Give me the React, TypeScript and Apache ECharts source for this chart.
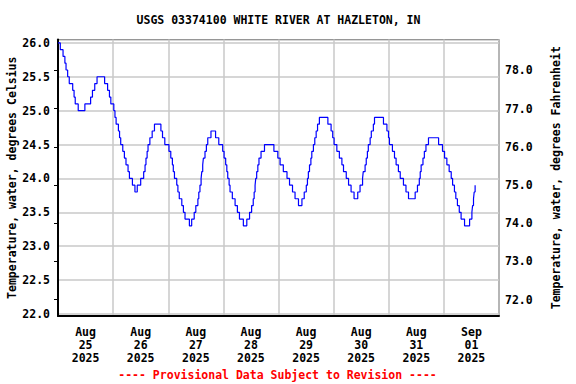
import React, { useEffect, useRef } from "react";
import * as echarts from "echarts";

// Hours after 2025-08-25 00:00 at which the reading changes, and the reading (deg C) from then on
const changeHours = [
  0, 1.0, 2.2, 3.0, 3.5, 4.2, 4.9, 6.4, 7.0, 7.5, 8.8, 11.7, 14.2, 15.0, 16.0, 17.0, 20.3, 21.6, 22.4, 23.0,
  24.3, 24.8, 25.3, 26.3, 26.8, 27.3, 28.2, 28.9, 29.6, 30.5, 31.1, 32.4, 33.5, 34.5, 36.0, 37.3, 37.9, 38.3,
  38.8, 39.2, 40.0, 41.0, 42.0, 44.8, 45.5, 46.5, 48.3, 49.1, 49.8, 50.2, 50.7, 51.7, 52.2, 52.8, 53.9, 54.6,
  55.3, 57.2, 58.2, 59.3, 60.0, 60.9, 61.3, 61.8, 62.3, 62.6, 63.0, 63.3, 64.0, 64.6, 65.2, 66.6, 68.6, 70.0,
  71.7, 72.3, 73.0, 73.5, 73.9, 74.5, 74.9, 75.9, 77.1, 78.1, 79.0, 80.7, 82.2, 83.4, 84.3, 85.0, 85.4, 85.8,
  86.1, 86.5, 87.0, 87.5, 88.4, 89.9, 94.0, 95.7, 96.7, 98.1, 99.7, 100.8, 102.1, 103.2, 104.7, 106.2, 107.2,
  108.1, 108.6, 109.0, 109.5, 110.1, 110.5, 111.2, 111.8, 112.4, 113.0, 113.8, 117.5, 118.9, 119.6, 120.2,
  121.4, 122.5, 123.6, 124.3, 125.5, 126.5, 127.6, 128.9, 130.5, 131.5, 132.6, 132.9, 133.7, 134.2, 134.7,
  135.1, 135.9, 136.4, 137.3, 137.8, 141.7, 143.2, 143.9, 144.3, 145.6, 146.5, 147.2, 148.2, 149.0, 150.4,
  151.5, 152.6, 155.5, 156.5, 157.3, 157.7, 158.1, 158.9, 159.5, 160.2, 161.3, 165.7, 167.4, 168.3, 169.3,
  170.3, 171.2, 171.8, 172.6, 173.2, 173.9, 174.7, 175.5, 177.0, 179.2, 180.2, 180.5, 180.9, 181.2, 181.6, 181.8,
];
const tempC = [
  26.0, 25.9, 25.8, 25.7, 25.6, 25.5, 25.4, 25.3, 25.2, 25.1, 25.0, 25.1, 25.2, 25.3, 25.4, 25.5, 25.4, 25.3, 25.2, 25.1,
  25.0, 24.9, 24.8, 24.7, 24.6, 24.5, 24.4, 24.3, 24.2, 24.1, 24.0, 23.9, 23.8, 23.9, 24.0, 24.1, 24.2, 24.3,
  24.4, 24.5, 24.6, 24.7, 24.8, 24.7, 24.6, 24.5, 24.4, 24.3, 24.2, 24.1, 24.0, 23.9, 23.8, 23.7, 23.6, 23.5,
  23.4, 23.3, 23.4, 23.5, 23.6, 23.7, 23.8, 23.9, 24.0, 24.1, 24.2, 24.3, 24.4, 24.5, 24.6, 24.7, 24.6, 24.5,
  24.4, 24.3, 24.2, 24.1, 24.0, 23.9, 23.8, 23.7, 23.6, 23.5, 23.4, 23.3, 23.4, 23.5, 23.6, 23.7, 23.8, 23.9,
  24.0, 24.1, 24.2, 24.3, 24.4, 24.5, 24.4, 24.3, 24.2, 24.1, 24.0, 23.9, 23.8, 23.7, 23.6, 23.7, 23.8,
  23.9, 24.0, 24.1, 24.2, 24.3, 24.4, 24.5, 24.6, 24.7, 24.8, 24.9, 24.8, 24.7, 24.6, 24.5,
  24.4, 24.3, 24.2, 24.1, 24.0, 23.9, 23.8, 23.7, 23.8, 23.9, 24.0, 24.1, 24.2, 24.3, 24.4,
  24.5, 24.6, 24.7, 24.8, 24.9, 24.8, 24.7, 24.6, 24.5, 24.4, 24.3, 24.2, 24.1, 24.0, 23.9,
  23.8, 23.7, 23.8, 23.9, 24.0, 24.1, 24.2, 24.3, 24.4, 24.5, 24.6, 24.5, 24.4, 24.3, 24.2,
  24.1, 24.0, 23.9, 23.8, 23.7, 23.6, 23.5, 23.4, 23.3, 23.4, 23.5, 23.6, 23.7, 23.8, 23.9, 23.9,
];

const dayLabels = [
  "Aug\n25\n2025", "Aug\n26\n2025", "Aug\n27\n2025", "Aug\n28\n2025",
  "Aug\n29\n2025", "Aug\n30\n2025", "Aug\n31\n2025", "Sep\n01\n2025",
];

const titleText = "USGS 03374100 WHITE RIVER AT HAZLETON, IN";
const footerText = "---- Provisional Data Subject to Revision ----";
const leftName = "Temperature, water, degrees Celsius";
const rightName = "Temperature, water, degrees Fahrenheit";

const FONT = "DejaVu Sans Mono";
const FS = 11.5;
const GRID = "#c8c8c8";

export default function App() {
  const ref = useRef<HTMLDivElement>(null);
  useEffect(() => {
    if (!ref.current) return;
    const chart = echarts.init(ref.current, null, { renderer: "svg" });
    const data = changeHours.map((h, i) => [h, tempC[i]]);
    const txt = { fontFamily: FONT, fontSize: FS, fontWeight: "bold" as const, color: "#000" };
    chart.setOption({
      animation: false,
      backgroundColor: "#fff",
      grid: {
        left: 58, right: 77, top: 39.5, bottom: 68,
        show: true, borderColor: "#000", borderWidth: 1, backgroundColor: "transparent",
        containLabel: false, outerBoundsMode: "none",
      },
      graphic: [
        {
          type: "text", x: 278.5, y: 20,
          style: { text: titleText, align: "center", verticalAlign: "middle", font: `bold ${FS}px "${FONT}"`, fill: "#000" },
        },
        {
          type: "text", x: 277.5, y: 375,
          style: { text: footerText, align: "center", verticalAlign: "middle", font: `bold ${FS}px "${FONT}"`, fill: "#ff0000" },
        },
      ],
      xAxis: [
        {
          type: "value", min: 0, max: 192, interval: 24,
          axisLine: { show: true, lineStyle: { color: "#000", width: 2 } },
          axisTick: { show: false },
          axisLabel: { show: false },
          splitLine: { show: true, lineStyle: { color: GRID, width: 1.5 } },
        },
        {
          type: "value", min: 0, max: 192, interval: 12, position: "bottom",
          axisLine: { show: false },
          axisTick: { show: false },
          splitLine: { show: false },
          axisLabel: {
            ...txt, margin: 9, lineHeight: 13, align: "center",
            showMinLabel: false, showMaxLabel: false,
            formatter: (v: number) => (v % 24 === 12 ? dayLabels[(v - 12) / 24] : ""),
          },
        },
      ],
      yAxis: [
        {
          type: "value", min: 21.97, max: 26.05, splitNumber: 8,
          name: leftName, nameLocation: "middle", nameGap: 40, nameRotate: 90, nameMoveOverlap: false,
          nameTextStyle: { ...txt },
          axisLine: { show: true, lineStyle: { color: "#000", width: 2 } },
          axisTick: { show: false },
          axisLabel: { ...txt, margin: 8, showMinLabel: false, showMaxLabel: false, formatter: (v: number) => v.toFixed(1) },
          splitLine: { show: true, lineStyle: { color: GRID, width: 1.5 } },
        },
        {
          type: "value", min: 71.57, max: 78.81, splitNumber: 7, position: "right",
          name: rightName, nameLocation: "middle", nameGap: 51, nameRotate: 90, nameMoveOverlap: false,
          nameTextStyle: { ...txt },
          axisLine: { show: true, lineStyle: { color: "#000", width: 1 } },
          axisTick: { show: true, inside: true, length: 4, lineStyle: { color: "#000", width: 1 } },
          axisLabel: { ...txt, margin: 6, showMinLabel: false, showMaxLabel: false, formatter: (v: number) => v.toFixed(1) },
          splitLine: { show: false },
        },
      ],
      series: [
        {
          type: "line", step: "end", data, xAxisIndex: 0, yAxisIndex: 0,
          showSymbol: false, symbol: "none",
          lineStyle: { color: "#0000ff", width: 1.2 },
        },
      ],
    });
    return () => chart.dispose();
  }, []);
  return <div ref={ref} style={{ position: "fixed", left: 0, top: 0, width: 576, height: 384 }} />;
}
